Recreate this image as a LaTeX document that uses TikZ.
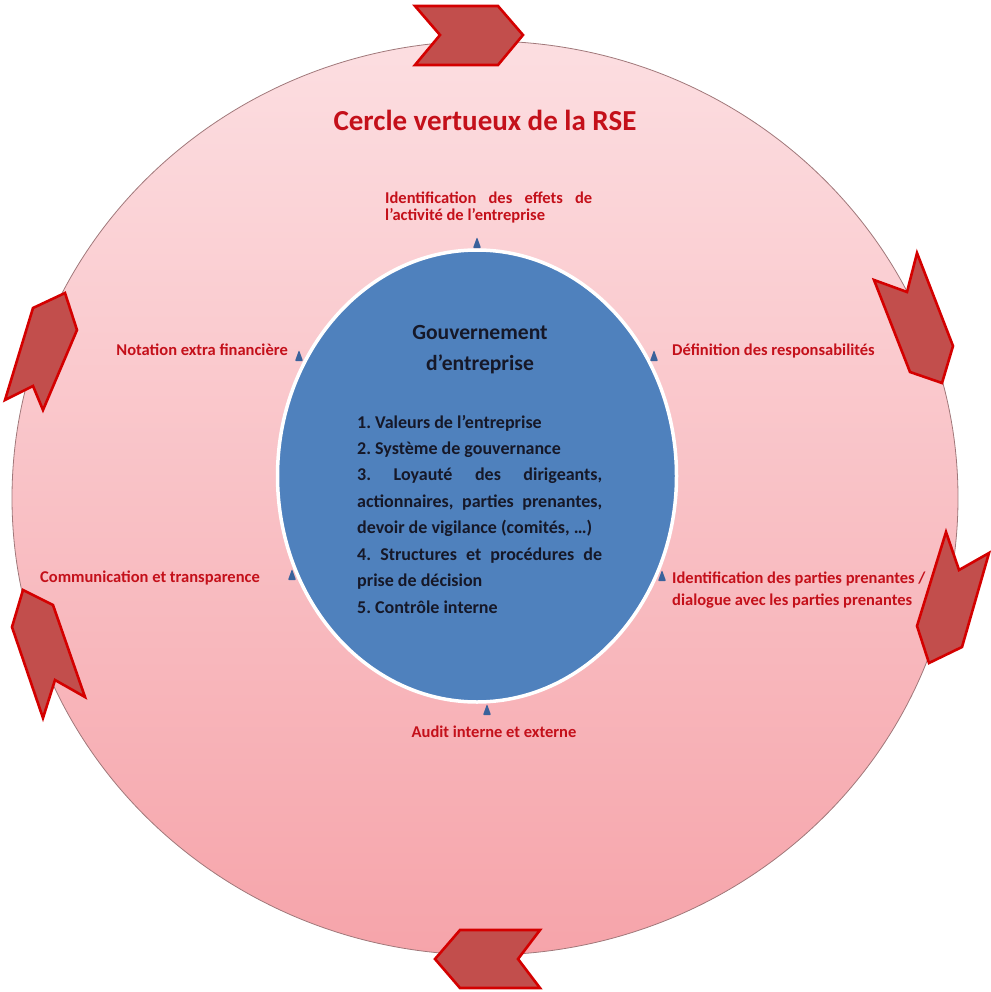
\documentclass[tikz,border=0pt]{standalone}
\usepackage{fontspec}
\setmainfont{Carlito}
\usetikzlibrary{shapes.geometric}
\frenchspacing
\definecolor{rseRed}{RGB}{196,16,26}
\definecolor{chevFill}{RGB}{194,78,76}
\definecolor{chevLine}{RGB}{212,0,0}
\definecolor{pinkTop}{RGB}{252,222,225}
\definecolor{pinkBot}{RGB}{246,164,170}
\definecolor{ringLine}{RGB}{160,120,122}
\definecolor{govBlue}{RGB}{79,129,189}
\definecolor{tickBlue}{RGB}{58,98,155}
\definecolor{govText}{RGB}{22,24,40}
\begin{document}
\begin{tikzpicture}[x=1pt,y=-1pt,
  chev/.style={fill=chevFill, draw=chevLine, line width=2.6pt, line join=miter},
  lbl/.style={text=rseRed, font=\bfseries\fontsize{16.5}{18}\selectfont, inner sep=0pt},
  item/.style={text=govText, font=\bfseries\fontsize{18}{22}\selectfont, inner sep=0pt, anchor=base west},
  head/.style={text=govText, font=\bfseries\fontsize{21.6}{26}\selectfont, inner sep=0pt, anchor=base},
  govtick/.pic={\fill[tickBlue, rounded corners=0.8pt] (-4,5) -- (0,-6) -- (4,5) -- cycle;}
]
\useasboundingbox (0,0) rectangle (990,992);
% outer cycle
\node[ellipse, draw=ringLine, line width=0.8pt, top color=pinkTop, bottom color=pinkBot,
      minimum width=946pt, minimum height=914pt, inner sep=0pt] (cycle) at (485,498) {};
% chevrons (clockwise)
\draw[chev] (415,6) -- (498,6) -- (523,35) -- (498,65) -- (415,65) -- (440,35) -- cycle;
\draw[chev] (917,253) -- (953,346) -- (942,383) -- (910,372) -- (874,280) -- (907,292) -- cycle;
\draw[chev] (946,532) -- (959,570) -- (989,553) -- (962,647) -- (929,663) -- (917,626) -- cycle;
\draw[chev] (435,959) -- (460,930) -- (540,930) -- (518,959) -- (540,988) -- (460,988) -- cycle;
\draw[chev] (23,590) -- (53,605) -- (85,697) -- (55,680) -- (43,718) -- (12,627) -- cycle;
\draw[chev] (65,293) -- (77,330) -- (43,410) -- (33,386) -- (5,400) -- (33,308) -- cycle;
% title
\node[text=rseRed, font=\bfseries\fontsize{29}{34}\selectfont, anchor=base, inner sep=0pt] (title) at (485,131) {Cercle vertueux de la RSE};
% inner ellipse
\node[ellipse, fill=govBlue, draw=white, line width=3.5pt, minimum width=399pt, minimum height=452pt, inner sep=0pt] (gov) at (477,476) {};
\node[head] (h1) at (480,339) {Gouvernement};
\node[head] (h2) at (480,370) {d’entreprise};
\node[item] (i1) at (357,428) {1. Valeurs de l’entreprise};
\node[item] (i2) at (357,454.4) {2. Système de gouvernance};
\node[item] (i3) at (357,480.9) {\makebox[245pt][s]{3. Loyauté des dirigeants,}};
\node[item] (i4) at (357,507.3) {\makebox[245pt][s]{actionnaires, parties prenantes,}};
\node[item] (i5) at (357,533.7) {devoir de vigilance (comités, …)};
\node[item] (i6) at (357,560.1) {\makebox[245pt][s]{4. Structures et procédures de}};
\node[item] (i7) at (357,586.6) {prise de décision};
\node[item] (i8) at (357,613) {5. Contrôle interne};
% small markers
\coordinate (mTop) at (477,243);
\coordinate (mUL) at (299,356);
\coordinate (mUR) at (654,356);
\coordinate (mL) at (292,575);
\coordinate (mR) at (662,576);
\coordinate (mB) at (487,710);
\foreach \m in {mTop,mUL,mUR,mL,mR,mB} \pic at (\m) {govtick};
% labels
\node[lbl, anchor=base west] (lTop1) at (385,204) {\makebox[207pt][s]{Identification des effets de}};
\node[lbl, anchor=base west] (lTop2) at (385,221) {l’activité de l’entreprise};
\node[lbl, anchor=base east] (lNot) at (288,355) {Notation extra financière};
\node[lbl, anchor=base west] (lDef) at (672,355) {Définition des responsabilités};
\node[lbl, anchor=base west] (lCom) at (40,582) {Communication et transparence};
\node[lbl, anchor=base west] (lId1) at (672,583) {Identification des parties prenantes /};
\node[lbl, anchor=base west] (lId2) at (672,605) {dialogue avec les parties prenantes};
\node[lbl, anchor=base] (lAud) at (494,737) {Audit interne et externe};
\end{tikzpicture}
\end{document}
